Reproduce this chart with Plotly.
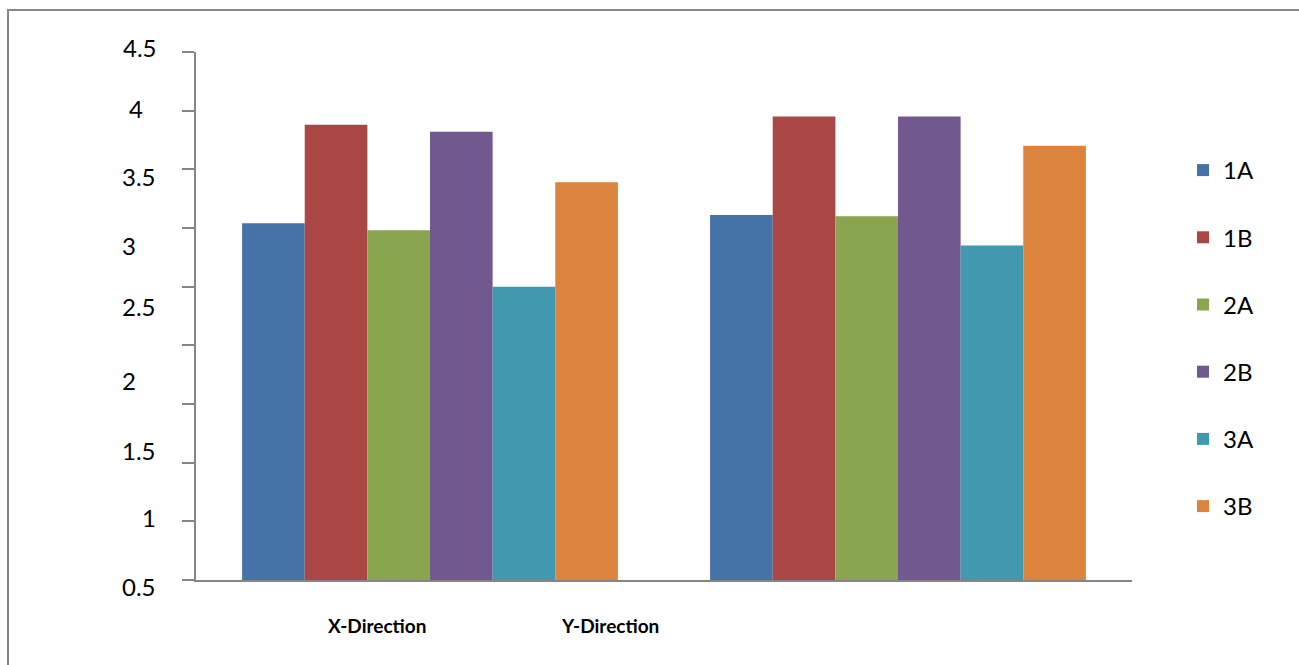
import plotly.graph_objects as go

# ---- data ----
categories = ["X-Direction", "Y-Direction"]
series_names = ["1A", "1B", "2A", "2B", "3A", "3B"]
values_1A = [3.04, 3.11]
values_1B = [3.88, 3.95]
values_2A = [2.98, 3.10]
values_2B = [3.82, 3.95]
values_3A = [2.50, 2.85]
values_3B = [3.39, 3.70]
series_values = [values_1A, values_1B, values_2A, values_2B, values_3A, values_3B]

y_range = [0, 4.5]
y_tick_labels = ["4.5", "4", "3.5", "3", "2.5", "2", "1.5", "1", "0.5"]
# where each printed label sits on the value scale (as drawn in the source)
y_label_pos = [4.536, 4.018, 3.435, 2.854, 2.328, 1.704, 1.107, 0.532, -0.057]
# category-axis positions of the printed category labels (as drawn in the source)
x_label_pos = [-0.114, 0.385]

# ---- style ----
colors = ["#4572A7", "#AA4643", "#89A54E", "#71588F", "#4198AF", "#DB843D"]
label_xshift = [-75, -69, -76, -76, -76, -76, -76, -56, -76]
axis_gray = "#868686"
FONT = "Lato"

W, H = 1299, 665
ML, MR, MT, MB = 196, 167, 52, 85
pw, ph = W - ML - MR, H - MT - MB

fig = go.Figure()
for name, vals, col in zip(series_names, series_values, colors):
    fig.add_trace(go.Bar(
        name=name, x=categories, y=vals, marker=dict(color=col, line=dict(width=0)),
        legendgroup=name,
    ))

span = y_range[1] - y_range[0]
annotations = []
for txt, pos, xs in zip(y_tick_labels, y_label_pos, label_xshift):
    annotations.append(dict(
        text=txt, xref="paper", yref="paper", x=0, y=(pos - y_range[0]) / span,
        xanchor="left", yanchor="middle", xshift=xs, showarrow=False,
        font=dict(family=FONT, size=24, color="#000000"),
    ))
cat_label_y = -(625.5 - (MT + ph)) / ph
for txt, pos in zip(categories, x_label_pos):
    annotations.append(dict(
        text="<b>" + txt + "</b>", xref="x", yref="paper", x=pos, y=cat_label_y,
        xanchor="center", yanchor="middle", showarrow=False,
        font=dict(family=FONT, size=19, color="#000000"),
    ))

fig.update_layout(
    width=W, height=H,
    margin=dict(l=ML, r=MR, t=MT, b=MB, pad=0),
    paper_bgcolor="white", plot_bgcolor="white",
    barmode="group", bargap=0.197, bargroupgap=0,
    font=dict(family=FONT, size=24, color="#000000"),
    showlegend=True,
    legend=dict(
        x=(1183 - ML) / pw, xanchor="left", y=1 - (148 - MT) / ph, yanchor="top",
        traceorder="grouped", tracegroupgap=33,
        font=dict(family=FONT, size=24, color="#000000"),
        bgcolor="rgba(0,0,0,0)",
    ),
    xaxis=dict(
        showline=True, linecolor=axis_gray, linewidth=2, showticklabels=False,
        ticks="", showgrid=False, zeroline=False,
    ),
    yaxis=dict(
        range=y_range, tick0=0, dtick=0.5, ticks="outside", ticklen=12, tickwidth=1.5,
        tickcolor=axis_gray, showticklabels=False, showline=True, linecolor=axis_gray,
        linewidth=2, showgrid=False, zeroline=False,
    ),
    annotations=annotations,
    shapes=[dict(
        type="rect", xref="paper", yref="paper",
        x0=(8 - ML) / pw, x1=(1320 - ML) / pw,
        y0=-(690 - (MT + ph)) / ph, y1=1 + (MT - 10) / ph,
        line=dict(color=axis_gray, width=2), fillcolor="rgba(0,0,0,0)", layer="below",
    )],
)

fig.write_html("out.html")
